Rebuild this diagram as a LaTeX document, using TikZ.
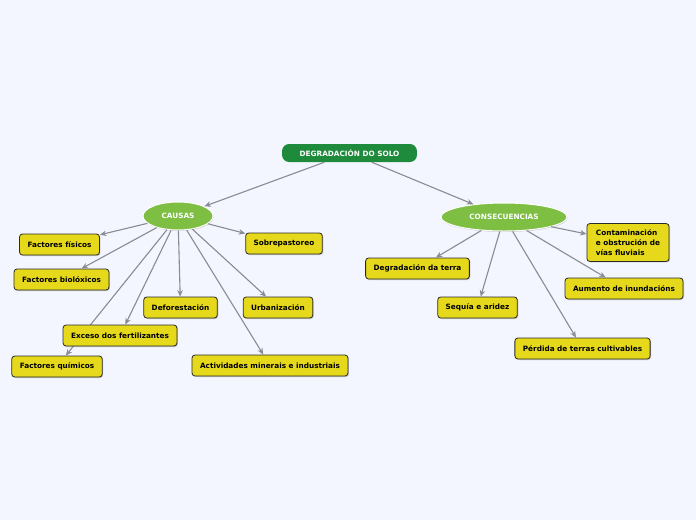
\documentclass[tikz,border=0pt]{standalone}
\usepackage{fontspec}
\setmainfont{DejaVu Sans}
\usetikzlibrary{arrows.meta,shapes.geometric,shadows}
\definecolor{bgc}{HTML}{F3F6FE}
\definecolor{rootg}{HTML}{1E8A3C}
\definecolor{lightg}{HTML}{7DBE43}
\definecolor{boxy}{HTML}{E6D91C}
\definecolor{edgeg}{HTML}{8A8A94}
\definecolor{boxline}{HTML}{2A2A2A}
\tikzset{
  lbl/.style={font=\fontsize{7.3}{10}\selectfont\bfseries},
  rootbox/.style={lbl, fill=rootg, text=white, rounded corners=7pt, minimum height=18pt, inner xsep=17.5pt, inner ysep=0pt},
  ovalnode/.style={lbl, ellipse, fill=lightg, draw=white, line width=1pt, text=white, inner sep=0pt, minimum height=28pt,
     drop shadow={shadow xshift=0.6pt, shadow yshift=-1pt, opacity=0.35}},
  leaf/.style={lbl, fill=boxy, draw=boxline, line width=0.8pt, rounded corners=3pt, minimum height=21pt, inner xsep=8pt, inner ysep=4pt,
     drop shadow={shadow xshift=1pt, shadow yshift=-1pt, opacity=0.4}},
  link/.style={draw=edgeg, line width=1.1pt, -{Stealth[length=6.5pt,width=5.5pt]}},
}
\begin{document}
\begin{tikzpicture}[x=1pt,y=-1pt]
\fill[bgc] (0,0) rectangle (696,520);
\useasboundingbox (0,0) rectangle (696,520);
% nodes
\node[rootbox] (root) at (349.5,153) {DEGRADACIÓN DO SOLO};
\node[ovalnode, minimum width=70pt] (causas) at (178,216) {CAUSAS};
\node[ovalnode, minimum width=126pt] (cons) at (504,217) {CONSECUENCIAS};

\node[leaf] (fisicos) at (59.5,244.5) {Factores físicos};
\node[leaf] (biolox) at (61.5,279.5) {Factores biolóxicos};
\node[leaf] (defor) at (180.5,307.5) {Deforestación};
\node[leaf] (urban) at (278,307.5) {Urbanización};
\node[leaf] (sobre) at (284,243.5) {Sobrepastoreo};
\node[leaf] (quimicos) at (57,366.5) {Factores químicos};
\node[leaf] (activ) at (270,365.5) {Actividades minerais e industriais};

\node[leaf] (degterra) at (417.5,268.5) {Degradación da terra};
\node[leaf] (sequia) at (477.5,307.5) {Sequía e aridez};
\node[leaf] (perdida) at (582.5,348.5) {Pérdida de terras cultivables};
\node[leaf] (aumento) at (624,288.5) {Aumento de inundacións};
\node[leaf, align=left, inner xsep=9pt, inner ysep=6pt] (contam) at (628,242.5) {Contaminación\\e obstrución de\\vías fluviais};

% edges
\draw[link] (root) -- (causas);
\draw[link] (root) -- (cons);
\draw[link] (causas) -- (fisicos);
\draw[link] (causas) -- (biolox);
\draw[link] (causas) -- (quimicos);
\node[leaf] (exceso) at (120,335.5) {Exceso dos fertilizantes};
\draw[link] (causas) -- (exceso);
\draw[link] (causas) -- (defor);
\draw[link] (causas) -- (activ);
\draw[link] (causas) -- (urban);
\draw[link] (causas) -- (sobre);
\draw[link] (cons) -- (degterra);
\draw[link] (cons) -- (sequia);
\draw[link] (cons) -- (perdida);
\draw[link] (cons) -- (aumento);
\draw[link] (cons) -- (contam);
\end{tikzpicture}
\end{document}
